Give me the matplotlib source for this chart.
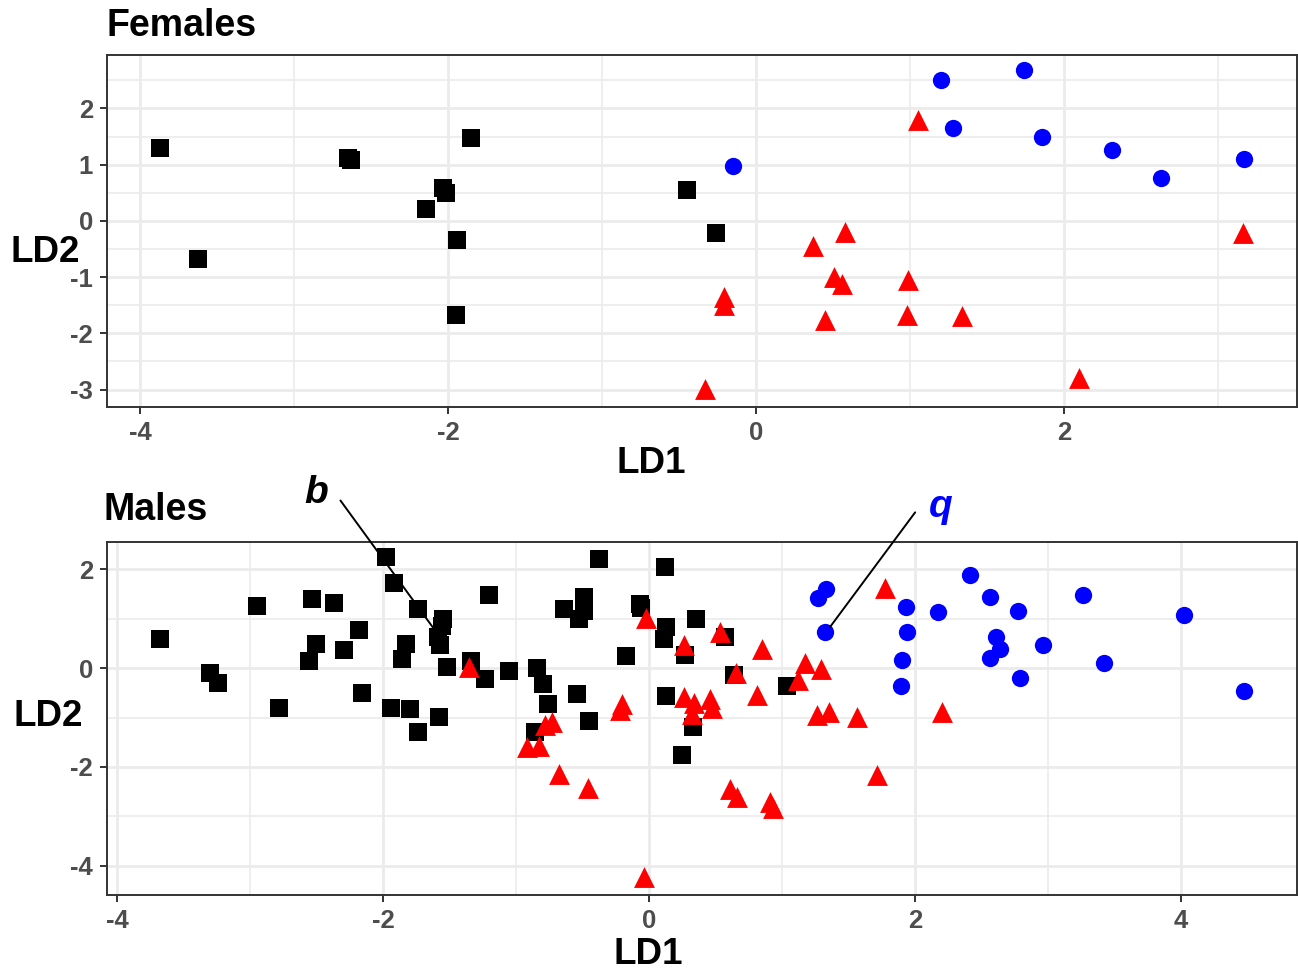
import numpy as np
import matplotlib
matplotlib.use('Agg')
import matplotlib.pyplot as plt
from matplotlib.ticker import MultipleLocator

plt.rcParams['font.family'] = ['Liberation Sans', 'DejaVu Sans']
plt.rcParams['font.weight'] = 'bold'
plt.rcParams['axes.unicode_minus'] = False

# ---------------- Females ----------------
fem_sq_x = [-3.87, -3.62, -2.65, -2.63, -1.85, -2.03, -2.01, -2.14, -1.94, -1.95, -0.45, -0.26]
fem_sq_y = [1.30, -0.68, 1.12, 1.08, 1.48, 0.59, 0.50, 0.21, -0.34, -1.67, 0.55, -0.21]

fem_ci_x = [-0.15, 1.20, 1.74, 1.28, 1.86, 2.31, 2.63, 3.17]
fem_ci_y = [0.98, 2.51, 2.69, 1.65, 1.49, 1.26, 0.77, 1.10]

fem_tr_x = [1.05, 0.58, 0.37, 0.51, 0.56, 0.99, -0.21, -0.21, 0.45, 0.98, 1.34, -0.33, 2.10, 3.16]
fem_tr_y = [1.80, -0.20, -0.45, -1.00, -1.12, -1.05, -1.35, -1.49, -1.76, -1.67, -1.69, -2.99, -2.79, -0.21]

# ---------------- Males ----------------
mal_sq_x = [-1.98, -1.92, -2.95, -2.53, -2.37, -2.18, -3.68, -2.50, -2.29, -2.56, -3.30, -3.24,
            -2.78, -2.16, -1.94, -1.74, -1.55, -1.56, -1.59, -1.57, -1.83, -1.86, -1.52, -1.34,
            -1.23, -1.20, -1.05, -0.84, -0.80, -0.76, -0.86, -1.80, -1.74, -1.58, -0.38, -0.64,
            -0.49, -0.49, -0.53, -0.54, -0.45, -0.17, -0.07, -0.06, 0.12, 0.35, 0.13, 0.11,
            0.57, 0.27, 0.64, 1.04, 0.13, 0.33, 0.25]
mal_sq_y = [2.24, 1.72, 1.25, 1.39, 1.31, 0.77, 0.59, 0.48, 0.36, 0.14, -0.10, -0.31,
            -0.81, -0.51, -0.81, 1.19, 0.99, 0.85, 0.63, 0.46, 0.48, 0.18, 0.02, 0.14,
            -0.22, 1.47, -0.06, 0.00, -0.33, -0.73, -1.29, -0.83, -1.29, -0.99, 2.20, 1.19,
            1.43, 1.15, 0.99, -0.53, -1.07, 0.24, 1.30, 1.22, 2.04, 0.99, 0.83, 0.58,
            0.63, 0.26, -0.14, -0.36, -0.56, -1.19, -1.76]

mal_ci_x = [1.33, 1.27, 1.32, 2.41, 2.56, 2.77, 3.26, 4.02, 2.17, 1.93, 1.94, 1.90, 1.89,
            2.61, 2.64, 2.56, 2.96, 2.79, 3.42, 4.47]
mal_ci_y = [1.60, 1.41, 0.73, 1.89, 1.44, 1.16, 1.47, 1.07, 1.13, 1.23, 0.73, 0.16, -0.36,
            0.63, 0.38, 0.20, 0.46, -0.20, 0.10, -0.46]

mal_tr_x = [-1.35, -0.02, -0.22, -0.20, -0.78, -0.73, -0.92, -0.83, -0.68, -0.46, 0.53, 0.26,
            0.85, 0.65, 1.17, 1.29, 1.12, 0.81, 0.26, 0.34, 0.46, 0.47, 0.32, 1.26, 1.35,
            1.56, 1.77, 1.71, 0.61, 0.66, 0.91, 0.93, -0.04, 2.20]
mal_tr_y = [0.02, 1.01, -0.85, -0.73, -1.15, -1.09, -1.60, -1.58, -2.14, -2.42, 0.73, 0.47,
            0.38, -0.10, 0.10, -0.02, -0.24, -0.55, -0.59, -0.71, -0.63, -0.81, -0.93, -0.95, -0.89,
            -0.99, 1.62, -2.16, -2.44, -2.60, -2.70, -2.83, -4.22, -0.89]

TICK_COL = '#4d4d4d'
GRID_COL = '#ebebeb'


def style_axes(ax, xlim, ylim, xmaj, ymaj, xmin, ymin):
    ax.set_xlim(*xlim)
    ax.set_ylim(*ylim)
    ax.xaxis.set_major_locator(MultipleLocator(xmaj))
    ax.yaxis.set_major_locator(MultipleLocator(ymaj))
    ax.xaxis.set_minor_locator(MultipleLocator(xmin))
    ax.yaxis.set_minor_locator(MultipleLocator(ymin))
    ax.grid(which='major', color=GRID_COL, lw=2.0)
    ax.grid(which='minor', color=GRID_COL, lw=1.2)
    ax.set_axisbelow(True)
    for s in ax.spines.values():
        s.set_color('#333333')
        s.set_linewidth(1.4)
    ax.tick_params(which='major', length=5, width=1.4, color='#333333',
                   labelsize=18.5, labelcolor=TICK_COL, pad=5)
    ax.tick_params(which='minor', length=0)
    for lab in ax.get_xticklabels() + ax.get_yticklabels():
        lab.set_fontweight('bold')


def draw(ax, sx, sy, cx, cy, tx, ty):
    ax.scatter(sx, sy, marker='s', s=155, c='black', linewidths=0, zorder=3)
    ax.scatter(tx, ty, marker='^', s=225, c='red', linewidths=0, zorder=3)
    ax.scatter(cx, cy, marker='o', s=155, c='blue', linewidths=0, zorder=3)


fig = plt.figure(figsize=(12.98, 9.71), dpi=100)
ax1 = fig.add_axes([0.0824, 0.5808, 0.9168, 0.3625])
ax2 = fig.add_axes([0.0824, 0.0783, 0.9168, 0.3635])

draw(ax1, fem_sq_x, fem_sq_y, fem_ci_x, fem_ci_y, fem_tr_x, fem_tr_y)
style_axes(ax1, (-4.214, 3.513), (-3.31, 2.95), 2, 1, 1, 0.5)

draw(ax2, mal_sq_x, mal_sq_y, mal_ci_x, mal_ci_y, mal_tr_x, mal_tr_y)
style_axes(ax2, (-4.075, 4.87), (-4.59, 2.55), 2, 2, 1, 1)

for ax, xl, yl in [(ax1, (0.457, -0.16), (-0.052, 0.44)),
                   (ax2, (0.455, -0.168), (-0.049, 0.507))]:
    ax.set_xlabel('LD1', fontsize=26.5, fontweight='bold')
    ax.set_ylabel('LD2', fontsize=26.5, fontweight='bold', rotation=0)
    ax.xaxis.set_label_coords(*xl)
    ax.yaxis.set_label_coords(*yl)
    ax.xaxis.label.set_va('center')
    ax.yaxis.label.set_va('center')
    ax.yaxis.label.set_ha('center')

fig.text(0.0824, 0.973, 'Females', fontsize=27, fontweight='bold', va='center', ha='left')
fig.text(0.0800, 0.4748, 'Males', fontsize=27, fontweight='bold', va='center', ha='left')

# labelled specimens
ax2.annotate('', xy=(-1.60, 0.73), xytext=(-2.32, 3.39), annotation_clip=False,
             arrowprops=dict(arrowstyle='-', color='black', lw=1.4, shrinkA=0, shrinkB=0))
ax2.text(-2.50, 3.54, 'b', fontsize=28, fontweight='bold', style='italic',
         ha='center', va='center', clip_on=False)
ax2.annotate('', xy=(1.36, 0.83), xytext=(2.00, 3.15), annotation_clip=False,
             arrowprops=dict(arrowstyle='-', color='black', lw=1.4, shrinkA=0, shrinkB=0))
ax2.text(2.19, 3.25, 'q', fontsize=28, fontweight='bold', style='italic', color='blue',
         ha='center', va='center', clip_on=False)

fig.savefig('out.png', dpi=100)
